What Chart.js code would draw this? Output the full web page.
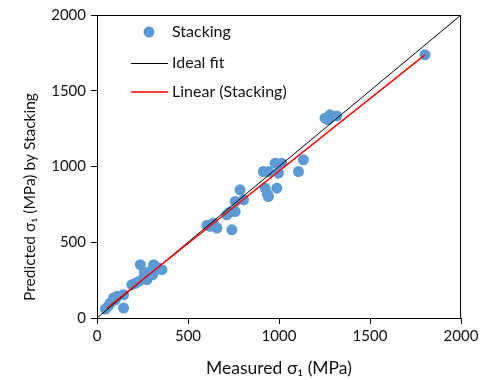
<!DOCTYPE html>
<html>
<head>
<meta charset="utf-8">
<script src="https://cdn.jsdelivr.net/npm/chart.js@4/dist/chart.umd.min.js"></script>
<style>
  html, body { margin: 0; padding: 0; background: #fff; }
  #wrap { width: 493px; height: 380px; position: relative; }
</style>
</head>
<body>
<div id="wrap"><canvas id="c" width="493" height="380"></canvas></div>
<script>
// Measured vs predicted principal stress, MPa
const measured = [
  46, 62, 73, 91, 110, 146, 146, 100,
  192, 210, 228, 238, 250, 262, 274, 285, 292, 305, 311, 325, 338, 357, 260,
  604, 622, 640, 659, 741, 713, 730, 759, 759, 805, 786,
  914, 942, 979, 1015, 997, 924, 942, 988, 1107, 1134, 935,
  1253, 1280, 1317, 1270,
  1802
];
const predicted = [
  59, 78, 99, 132, 143, 154, 66, 120,
  220, 228, 240, 352, 255, 270, 253, 290, 307, 285, 352, 318, 330, 319, 300,
  612, 605, 625, 594, 582, 681, 700, 703, 769, 780, 846,
  967, 967, 1022, 1022, 956, 857, 802, 857, 967, 1044, 820,
  1319, 1341, 1334, 1310,
  1737
];
// 1:1 reference line
const idealX = [0, 2000];
const idealY = [0, 2000];
// Linear trendline of the Stacking series
const fitX = [55, 1802];
const fitY = [66, 1737];

const axisTicks = [0, 500, 1000, 1500, 2000];
const seriesName = 'Stacking';
const idealName = 'Ideal fit';
const fitName = 'Linear (Stacking)';
const xTitle = 'Measured σ₁ (MPa)';
const yTitle = 'Predicted σ₁ (MPa) by Stacking';

const FONT = 'Lato, "Open Sans", sans-serif';
const TEXT = '#111111';
const BLUE = '#5B9BD5';

const pts = (xs, ys) => xs.map((x, i) => ({ x, y: ys[i] }));

const decor = {
  id: 'decor',
  afterDraw(chart) {
    const { ctx, chartArea: a } = chart;
    ctx.save();
    // frame around plot area
    ctx.strokeStyle = '#000';
    ctx.lineWidth = 1;
    ctx.beginPath();
    ctx.moveTo(a.left, a.top + 0.5);
    ctx.lineTo(a.right - 0.5, a.top + 0.5);
    ctx.lineTo(a.right - 0.5, a.bottom);
    ctx.stroke();

    // legend
    ctx.font = '16px ' + FONT;
    ctx.textBaseline = 'middle';
    ctx.textAlign = 'left';
    ctx.fillStyle = BLUE;
    ctx.beginPath();
    ctx.arc(149, 32, 5.5, 0, Math.PI * 2);
    ctx.fill();
    ctx.fillStyle = TEXT;
    ctx.fillText(seriesName, 172, 32);
    ctx.strokeStyle = '#000';
    ctx.lineWidth = 1;
    ctx.beginPath(); ctx.moveTo(131, 63.5); ctx.lineTo(168, 63.5); ctx.stroke();
    ctx.fillText(idealName, 172, 63);
    ctx.strokeStyle = '#ff0000';
    ctx.lineWidth = 1.5;
    ctx.beginPath(); ctx.moveTo(131, 92); ctx.lineTo(168, 92); ctx.stroke();
    ctx.fillText(fitName, 172, 92);

    // axis titles
    ctx.textAlign = 'center';
    ctx.font = '17.5px ' + FONT;
    ctx.fillText(xTitle, (a.left + a.right) / 2, 368);
    ctx.font = '15.5px ' + FONT;
    ctx.translate(30, 197);
    ctx.rotate(-Math.PI / 2);
    ctx.fillText(yTitle, 0, 0);
    ctx.restore();
  }
};

new Chart(document.getElementById('c'), {
  type: 'scatter',
  data: {
    datasets: [
      {
        label: fitName,
        data: pts(fitX, fitY),
        showLine: true,
        borderColor: '#ff0000',
        borderWidth: 1.5,
        pointRadius: 0,
        order: 1
      },
      {
        label: idealName,
        data: pts(idealX, idealY),
        showLine: true,
        borderColor: '#000000',
        borderWidth: 1,
        pointRadius: 0,
        order: 2
      },
      {
        label: seriesName,
        data: pts(measured, predicted),
        backgroundColor: BLUE,
        borderWidth: 0,
        pointRadius: 5.5,
        order: 3
      }
    ]
  },
  options: {
    responsive: false,
    animation: false,
    layout: { padding: { left: 0, right: 32, top: 15, bottom: 0 } },
    plugins: { legend: { display: false }, tooltip: { enabled: false } },
    scales: {
      x: {
        type: 'linear',
        min: 0, max: 2000,
        afterBuildTicks: s => { s.ticks = axisTicks.map(v => ({ value: v })); },
        afterFit: s => { s.height = 62; },
        grid: { drawOnChartArea: false, drawTicks: true, tickLength: 6, color: '#000' },
        border: { display: true, color: '#000', width: 1 },
        ticks: { color: TEXT, font: { family: FONT, size: 15 }, padding: 3, maxRotation: 0,
                 callback: v => String(v) }
      },
      y: {
        type: 'linear',
        min: 0, max: 2000,
        afterBuildTicks: s => { s.ticks = axisTicks.map(v => ({ value: v })); },
        afterFit: s => { s.width = 97; },
        grid: { drawOnChartArea: false, drawTicks: true, tickLength: 6, color: '#000' },
        border: { display: true, color: '#000', width: 1 },
        ticks: { color: TEXT, font: { family: FONT, size: 15 }, padding: 5,
                 callback: v => String(v) }
      }
    }
  },
  plugins: [decor]
});
</script>
</body>
</html>
